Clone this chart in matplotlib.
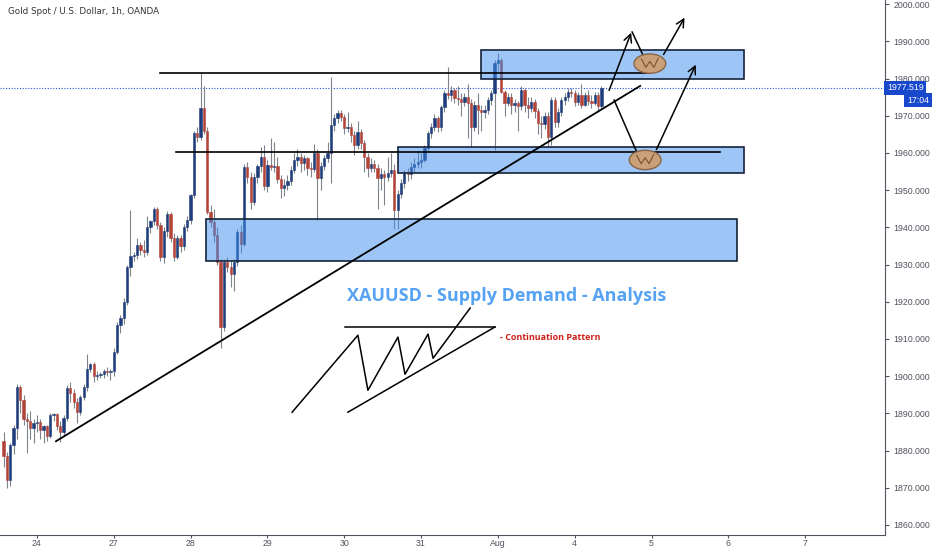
import matplotlib
matplotlib.use("Agg")
import matplotlib.pyplot as plt
from matplotlib.patches import Rectangle, Ellipse

# XAUUSD 1h candles, 23 Jul -> 4 Aug (weekend gaps removed)
opens = [1882.5, 1878.5, 1872, 1881.5, 1886, 1897, 1893.5, 1888.5, 1888, 1886,
         1887.5, 1887.8, 1885.5, 1886.5, 1884, 1889.5, 1889.7, 1886.5, 1885, 1888.7,
         1896.8, 1895.5, 1893, 1890.3, 1894.4, 1897, 1902, 1903.3, 1900, 1900.3,
         1900.5, 1901.4, 1901, 1901.5, 1906.6, 1913.8, 1915.6, 1920, 1929.3, 1932.2,
         1932.5, 1935.2, 1934, 1933.3, 1940, 1941.6, 1945, 1940.6, 1932, 1939,
         1943.5, 1937, 1932, 1937, 1935, 1940, 1942, 1948.7, 1965.3, 1964.2,
         1972, 1966, 1944, 1941.5, 1938, 1930.6, 1913.2, 1930.6, 1929.3, 1927.5,
         1930.6, 1938.7, 1935.5, 1956.2, 1953.5, 1946.8, 1953.5, 1956.5, 1959, 1951,
         1956.7, 1956.2, 1956.5, 1953, 1950.5, 1951.5, 1952.5, 1955.4, 1958, 1959,
         1957.3, 1958.6, 1956, 1955.8, 1960, 1953.2, 1956.5, 1958.6, 1960, 1967.5,
         1969.4, 1970.7, 1969.6, 1966.7, 1967, 1964.8, 1962, 1965.5, 1962.6, 1958.9,
         1956, 1957, 1956, 1953.2, 1954.3, 1953.5, 1954.6, 1955.5, 1944.6, 1949,
         1951.9, 1954.6, 1954.2, 1956.2, 1957, 1957.5, 1958.2, 1961.3, 1965.3, 1967,
         1969.4, 1967, 1972.3, 1976, 1975.5, 1976.9, 1974.7, 1974.5, 1973.7, 1975,
         1973.4, 1967, 1973, 1971.5, 1971, 1971.5, 1974.2, 1976, 1984.2, 1985,
         1976.5, 1973.5, 1975, 1972.8, 1973.5, 1972.5, 1977, 1972.8, 1972.2, 1973.7,
         1971.2, 1968, 1967.8, 1970, 1964.2, 1974.2, 1968.3, 1971, 1974.2, 1975,
         1976.3, 1976, 1973.7, 1975.5, 1973, 1975.5, 1974, 1973.5, 1975.5, 1972.5]
highs = [1885, 1879.5, 1882, 1887, 1898, 1897.5, 1895, 1890, 1890.5, 1888.5,
         1889.5, 1888.5, 1887, 1887, 1890, 1890.2, 1890, 1888, 1889.5, 1897.5,
         1898.5, 1896.5, 1894, 1895, 1898, 1906, 1903.5, 1903.8, 1901.5, 1901,
         1902, 1902.5, 1902, 1907.5, 1914.5, 1916.5, 1921, 1930, 1944.6, 1933.5,
         1937, 1936, 1936.5, 1943, 1942, 1945.5, 1945.5, 1941.5, 1940, 1944.5,
         1944, 1938.5, 1938, 1938, 1941, 1943, 1949, 1966, 1967, 1981.5,
         1978, 1967, 1946, 1945, 1940, 1931.5, 1931.5, 1932, 1931, 1931.5,
         1939.5, 1940.5, 1957, 1957.5, 1955, 1954.5, 1957, 1961.5, 1962, 1958,
         1964, 1963, 1959, 1954, 1953, 1954, 1956.5, 1960, 1961, 1960,
         1959.5, 1959, 1957.5, 1962.5, 1961, 1957.5, 1959.5, 1963, 1980.5, 1970.5,
         1971.5, 1971.5, 1970.5, 1971, 1968, 1966, 1968.5, 1966.5, 1963.5, 1960,
         1958.5, 1958, 1957, 1956, 1955.5, 1959, 1960, 1957, 1950, 1953,
         1955.5, 1956, 1957.5, 1958.5, 1960.5, 1960, 1962, 1966, 1968, 1970.5,
         1970, 1973, 1977, 1983, 1978, 1977.5, 1978, 1976, 1976, 1978.5,
         1974.5, 1974, 1976, 1973, 1973, 1975, 1977, 1985, 1986.8, 1985.5,
         1977, 1976, 1976, 1974.5, 1974, 1978, 1977.5, 1975, 1975, 1974.5,
         1972, 1970, 1971, 1971, 1975, 1975, 1972, 1975, 1976, 1977.5,
         1977.5, 1977, 1976.5, 1978.5, 1976.5, 1977, 1975.5, 1976.5, 1976.5, 1978]
lows = [1875.5, 1870, 1870.5, 1879, 1883, 1890, 1887, 1879.3, 1883, 1882,
        1885, 1883, 1882, 1882.5, 1883.5, 1888, 1885.5, 1882.3, 1884, 1888,
        1893, 1891.5, 1887.5, 1889.5, 1893.5, 1896, 1901, 1898.5, 1899, 1899.5,
        1899.5, 1900, 1899, 1900, 1906, 1911.5, 1914, 1919, 1927, 1931,
        1931.5, 1932.5, 1932, 1932.5, 1938.5, 1940.5, 1939.5, 1931, 1930.5, 1937.5,
        1936, 1931, 1931.5, 1933.5, 1934, 1939, 1941, 1948, 1963, 1963.5,
        1965, 1943.5, 1940, 1936, 1930, 1907.5, 1912, 1928, 1924, 1923,
        1929.5, 1933, 1935, 1952, 1945, 1946, 1952, 1955, 1950, 1949.5,
        1955.5, 1955, 1952, 1948, 1948.5, 1950, 1951.5, 1954.5, 1956.5, 1955,
        1955.5, 1954, 1953.5, 1955, 1942, 1950, 1955.5, 1957.5, 1952, 1966,
        1968, 1968.5, 1965, 1965.5, 1963, 1959.5, 1961, 1961, 1955, 1953.5,
        1955, 1955, 1945, 1950, 1946, 1952.5, 1953.5, 1939.5, 1939.5, 1948,
        1950.5, 1952.5, 1953, 1955, 1956, 1956, 1957.5, 1960.5, 1964, 1966,
        1965.5, 1966, 1971, 1974.5, 1974, 1973.5, 1973, 1970, 1972.5, 1964,
        1961.6, 1966, 1965, 1966, 1969.5, 1970.5, 1973, 1960.8, 1982, 1976,
        1970, 1972.5, 1970.5, 1971, 1966, 1971.5, 1971, 1969.5, 1971, 1969.5,
        1965, 1964, 1966.5, 1961.6, 1962, 1967, 1967, 1970, 1973, 1974,
        1975, 1972.5, 1973, 1972, 1972.5, 1973, 1972, 1973, 1971, 1971.5]
closes = opens[1:] + [1977.5]

# time axis labels (bar index where each day starts)
day_ticks = [10, 33, 56, 79, 102, 125, 148, 171, 194, 217, 240]
day_labels = ["24", "27", "28", "29", "30", "31", "Aug", "4", "5", "6", "7"]
price_ticks = list(range(1860, 2001, 10))
last_price = 1977.519

up_col = "#1f3d7a"
down_col = "#b2443a"
wick_col = "#7f828c"
ui_font = "Liberation Sans"

fig = plt.figure(figsize=(9.32, 5.5), dpi=100)
ax = fig.add_axes([0, 15 / 550, 885 / 932, 535 / 550])
ax.set_xlim(-1.05, 263.9)
ax.set_ylim(1857.3, 2001.1)

# candles
for i, (o, h, l, c) in enumerate(zip(opens, highs, lows, closes)):
    col = up_col if c >= o else down_col
    ax.vlines(i, l, h, color=wick_col, lw=0.8, zorder=2)
    ax.add_patch(Rectangle((i - 0.34, min(o, c)), 0.68, max(abs(c - o), 0.15),
                           facecolor=col, edgecolor=col, lw=0.4, zorder=3))

# last price dotted line
ax.axhline(last_price, color="#1e53e5", lw=0.8, ls=(0, (1, 1.5)), zorder=1)

# supply / demand zones
zones = [((60.6, 1930.9), 159.0, 11.3), ((118.1, 1954.6), 103.6, 7.0), ((143.0, 1979.8), 78.7, 7.8)]
for (x0, y0), w, h in zones:
    ax.add_patch(Rectangle((x0, y0), w, h, facecolor="#3d8ef0", alpha=0.5, edgecolor="none", zorder=4))
    ax.add_patch(Rectangle((x0, y0), w, h, facecolor="none", edgecolor="#15233a", lw=1.2, zorder=5))

# horizontal levels and trendline
ax.plot([47, 193.6], [1981.5, 1981.5], color="black", lw=1.2, zorder=6)
ax.plot([51.6, 214.5], [1960.2, 1960.2], color="black", lw=1.2, zorder=6)
ax.plot([15.7, 190.6], [1882.5, 1978.0], color="black", lw=1.3, zorder=6)

# continuation pattern sketch
zz_x = [86.4, 106.1, 109.1, 118.1, 120.2, 127.1, 128.6, 139.7]
zz_y = [1890.3, 1911.0, 1896.2, 1910.5, 1900.5, 1911.3, 1904.8, 1918.3]
ax.plot(zz_x, zz_y, color="black", lw=1.1, zorder=6)
ax.plot([102.2, 147.1], [1913.2, 1913.2], color="black", lw=1.1, zorder=6)
ax.plot([103.1, 147.1], [1890.3, 1913.2], color="black", lw=1.1, zorder=6)

# projected paths
arrow = dict(arrowstyle="->", color="black", lw=1.1, mutation_scale=14)
ax.annotate("", xy=(188.2, 1993.0), xytext=(181.0, 1976.1), arrowprops=arrow, zorder=7)
ax.plot([188.2, 191.6], [1992.5, 1986.0], color="black", lw=1.1, zorder=7)
ax.annotate("", xy=(204.3, 1997.0), xytext=(197.2, 1985.8), arrowprops=arrow, zorder=7)
ax.plot([182.8, 190.0], [1974.2, 1959.4], color="black", lw=1.1, zorder=7)
ax.annotate("", xy=(207.6, 1984.4), xytext=(195.1, 1960.2), arrowprops=arrow, zorder=7)

for cx, cy in [(193.5, 1984.0), (192.1, 1958.1)]:
    ax.add_patch(Ellipse((cx, cy), 9.5, 5.2, facecolor="#c9a07a", edgecolor="#8a6444", lw=1.0, zorder=8))
    ax.plot([cx - 2.5, cx - 1.2, cx, cx + 1.2, cx + 2.5],
            [cy + 1.2, cy - 1.0, cy + 0.6, cy - 1.0, cy + 1.4], color="#7a5030", lw=0.8, zorder=9)

ax.text(150.7, 1921.5, "XAUUSD - Supply Demand - Analysis", color="#55a3f2",
        fontsize=13, fontweight="bold", family="Open Sans", ha="center", va="center", zorder=9)
ax.text(148.6, 1910.5, "- Continuation Pattern", color="#d0201a", fontsize=6.5,
        fontweight="bold", family="Open Sans", ha="left", va="center", zorder=9)

# axes styling
for s in ["left", "top"]:
    ax.spines[s].set_visible(False)
ax.spines["right"].set_color("#50535e")
ax.spines["bottom"].set_color("#50535e")
ax.spines["right"].set_linewidth(0.8)
ax.spines["bottom"].set_linewidth(0.8)
ax.yaxis.tick_right()
ax.set_yticks(price_ticks)
ax.set_yticklabels([f"{p:.3f}" for p in price_ticks], family=ui_font)
ax.set_xticks(day_ticks)
ax.set_xticklabels(day_labels, family=ui_font)
ax.tick_params(axis="y", labelsize=6.3, colors="#50535e", length=3, pad=3)
ax.tick_params(axis="x", labelsize=6.3, colors="#50535e", length=2, pad=1)

# price tag on the scale
ax.text(1.0 + 2 / 885, last_price, "1977.519", transform=ax.get_yaxis_transform(), color="white",
        fontsize=6.3, family=ui_font, ha="left", va="center", zorder=10, clip_on=False,
        bbox=dict(boxstyle="square,pad=0.3", facecolor="#1848cc", edgecolor="none"))
ax.text(1.0 + 44 / 885, last_price - 3.3, "17:04", transform=ax.get_yaxis_transform(), color="white",
        fontsize=6.3, family=ui_font, ha="right", va="center", zorder=10, clip_on=False,
        bbox=dict(boxstyle="square,pad=0.3", facecolor="#1848cc", edgecolor="none"))

fig.text(8 / 932, 1 - 11 / 550, "Gold Spot / U.S. Dollar, 1h, OANDA", fontsize=6.3,
         color="#333333", ha="left", va="center")

fig.savefig("out.png", dpi=100)
